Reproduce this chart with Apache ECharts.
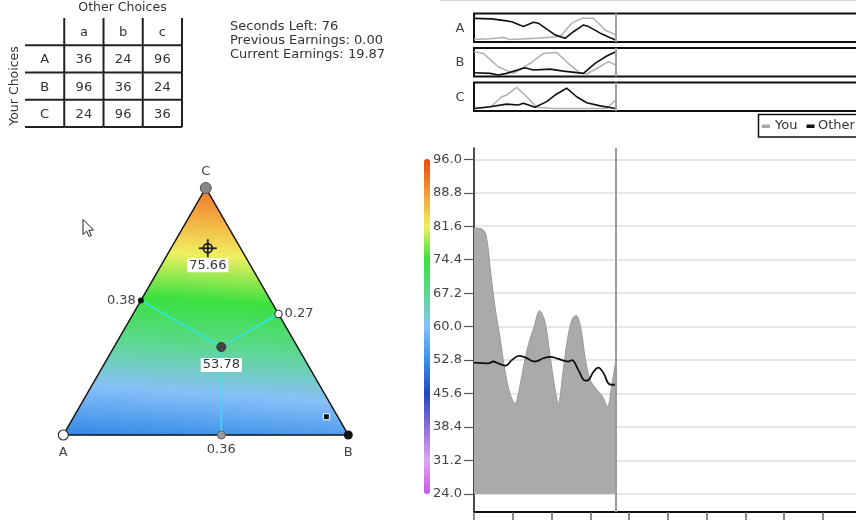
<!DOCTYPE html>
<html><head><meta charset="utf-8">
<script src="https://cdn.jsdelivr.net/npm/echarts@6/dist/echarts.min.js"></script>
<style>html,body{margin:0;padding:0;background:#fff}#c{width:856px;height:520px}</style>
</head><body><div id="c"></div>
<script>
// ---------- data ----------
const payoffCols = ['a', 'b', 'c'];
const payoffRows = ['A', 'B', 'C'];
const payoffs = [[36, 24, 96], [96, 36, 24], [24, 96, 36]];
const infoLines = ['Seconds Left: 76', 'Previous Earnings: 0.00', 'Current Earnings: 19.87'];
const vertexLabels = ['A', 'B', 'C'];
const vertexHeat = [52, 55, 92];             // payoff shown at vertices A, B, C
const heatColors = ['#c855e8', '#dfa6f2', '#8a6fd6', '#2447c0', '#3a8ee8', '#88c0f8',
                    '#5cd890', '#3ae040', '#f0f060', '#f29a3a', '#e84a10'];
const heatMin = 24, heatMax = 96, heatStep = 7.2;
const myMix = [0.27, 0.38, 0.36];           // weights of A, B, C
const myPayoffNow = 53.78;
const cursorMix = [0.115, 0.129, 0.756];
const cursorPayoff = 75.66;
const otherMarker = [0.04, 0.886, 0.074];
const timeMax = 120, timeStep = 12, timeNow = 44;
const legendNames = ['You', 'Other'];
const youPayoff = [[0,81.2],[2.5,81.0],[3.8,79.5],[5.2,71.5],[6.5,64.3],[8.1,57.5],[9.6,50.5],[11.2,45.5],[12.7,43.5],
  [14,46.5],[15.5,52],[17,56.5],[18.6,60],[20.3,63.4],[22,61],[23.5,54],[25,47],[26.1,43.5],
  [27.5,50],[29,57.5],[30.5,61.8],[31.6,62.4],[33,60],[34.5,53],[36,48.5],[38,46.5],[39.8,45],
  [41.3,42.8],[42.7,47.5],[44,53.2]];
const otherPayoff = [[0,52.25],[4.4,52.1],[6.0,52.5],[7.5,52.1],[9.8,51.6],[11.7,52.8],[14.0,53.7],[15.8,53.4],
  [18.9,52.5],[21.5,53.2],[23.6,53.5],[25.6,53.2],[27.7,52.7],[29.2,52.5],[30.3,52.8],[32.3,50.7],
  [34.4,48.4],[35.4,48.5],[37.0,50.3],[38.5,51.2],[40.1,50.0],[41.6,47.8],[42.7,47.5],[44,47.5]];
const youA = [[0,0.09],[5,0.11],[9.1,0.16],[11.2,0.09],[19.4,0.13],[26.7,0.19],[30.3,0.66],[33.4,0.83],[37,0.83],[40.6,0.42],[42.7,0.31],[43.9,0.25]];
const otherA = [[0,0.83],[5.5,0.81],[9.6,0.75],[11.7,0.71],[15.3,0.54],[18.4,0.69],[19.9,0.66],[25.1,0.25],[28.2,0.13],[30.8,0.36],[33.9,0.60],[35.5,0.54],[39.1,0.31],[42.2,0.15],[43.9,0.07]];
const youB = [[0,0.87],[2.9,0.81],[7.5,0.34],[12.2,0.11],[17.4,0.46],[21.5,0.81],[25.6,0.84],[29.2,0.46],[32.9,0.11],[35,0.09],[38.1,0.29],[41.7,0.52],[43.9,0.40]];
const otherB = [[0,0.13],[5,0.11],[7.5,0.05],[10.1,0.11],[15.8,0.31],[18.4,0.23],[23.6,0.26],[27.7,0.19],[33.9,0.11],[37.5,0.46],[41.1,0.72],[43.9,0.87]];
const youC = [[0,0.09],[5,0.13],[8.6,0.50],[10.1,0.56],[13.2,0.83],[15.8,0.56],[19.4,0.13],[24.6,0.09],[41.1,0.09],[43.9,0.39]];
const otherC = [[0,0.09],[5,0.15],[10.1,0.24],[13.7,0.21],[15.3,0.27],[18.9,0.13],[22.5,0.33],[25.1,0.56],[28.7,0.80],[31.8,0.50],[34.9,0.29],[39.1,0.18],[43.9,0.09]];
const sparkYou = [youA, youB, youC];
const sparkOther = [otherA, otherB, otherC];

// ---------- helpers ----------
const FONT = 'DejaVu Sans';
const H = Math.sqrt(3) / 2;
function toXY(w) { const s = w[0] + w[1] + w[2]; return [(w[1] + w[2] * 0.5) / s, (w[2] / s) * H]; }
const YOU_COLOR = '#aaaaaa', OTHER_COLOR = '#111111';

const chart = echarts.init(document.getElementById('c'), null, { renderer: 'canvas' });

function triangleItem(params, api) {
  const pA = api.coord([0, 0]), pB = api.coord([1, 0]), pC = api.coord([0.5, H]);
  const [vA, vB, vC] = vertexHeat;
  const e1 = [pB[0] - pA[0], pB[1] - pA[1]], e2 = [pC[0] - pA[0], pC[1] - pA[1]];
  const d1 = vB - vA, d2 = vC - vA;
  const det = e1[0] * e2[1] - e1[1] * e2[0];
  const gx = (d1 * e2[1] - d2 * e1[1]) / det;
  const gy = (e1[0] * d2 - e2[0] * d1) / det;
  const g2 = gx * gx + gy * gy;
  const at = v => [pA[0] + gx * (v - vA) / g2, pA[1] + gy * (v - vA) / g2];
  const p0 = at(heatMin), p1 = at(heatMax);
  const stops = heatColors.map((c, i) => ({ offset: i / (heatColors.length - 1), color: c }));
  const P = api.coord(toXY(myMix));
  const foot = (U, V) => { const dx = V[0] - U[0], dy = V[1] - U[1];
    const t = ((P[0] - U[0]) * dx + (P[1] - U[1]) * dy) / (dx * dx + dy * dy); return [U[0] + t * dx, U[1] + t * dy]; };
  const fB = foot(pA, pC), fA = foot(pB, pC), fC = foot(pA, pB);
  const X = api.coord(toXY(cursorMix));
  const Q = api.coord(toXY(otherMarker));
  const txt = (x, y, text, align, extra) => ({ type: 'text', x, y, z2: 20,
    style: Object.assign({ text, fill: '#444', fontSize: 13, fontFamily: FONT, align: align || 'center', verticalAlign: 'middle' }, extra || {}) });
  const cyan = { stroke: '#2fe6ea', lineWidth: 1.5 };
  const children = [
    { type: 'polygon', shape: { points: [pA, pB, pC] }, z2: 1,
      style: { fill: { type: 'linear', x: p0[0], y: p0[1], x2: p1[0], y2: p1[1], global: true, colorStops: stops }, stroke: '#111', lineWidth: 1.5 } },
    { type: 'line', shape: { x1: P[0], y1: P[1], x2: fB[0], y2: fB[1] }, style: cyan, z2: 5 },
    { type: 'line', shape: { x1: P[0], y1: P[1], x2: fA[0], y2: fA[1] }, style: cyan, z2: 5 },
    { type: 'line', shape: { x1: P[0], y1: P[1], x2: fC[0], y2: fC[1] }, style: cyan, z2: 5 },
    { type: 'circle', shape: { cx: fB[0], cy: fB[1], r: 3 }, style: { fill: '#111' }, z2: 10 },
    { type: 'circle', shape: { cx: fA[0], cy: fA[1], r: 3.8 }, style: { fill: '#fff', stroke: '#222', lineWidth: 1 }, z2: 10 },
    { type: 'circle', shape: { cx: fC[0], cy: fC[1], r: 4 }, style: { fill: '#999', stroke: '#666', lineWidth: 1 }, z2: 10 },
    { type: 'circle', shape: { cx: P[0], cy: P[1], r: 4.5 }, style: { fill: '#444', stroke: '#333', lineWidth: 1 }, z2: 10 },
    { type: 'circle', shape: { cx: pA[0], cy: pA[1], r: 5 }, style: { fill: '#fff', stroke: '#333', lineWidth: 1.2 }, z2: 10 },
    { type: 'circle', shape: { cx: pB[0], cy: pB[1], r: 4.5 }, style: { fill: '#111' }, z2: 10 },
    { type: 'circle', shape: { cx: pC[0], cy: pC[1], r: 5.5 }, style: { fill: '#888', stroke: '#555', lineWidth: 1 }, z2: 10 },
    { type: 'rect', shape: { x: Q[0] - 3, y: Q[1] - 3, width: 6, height: 6 }, style: { fill: '#111', stroke: '#fff', lineWidth: 1 }, z2: 10 },
    { type: 'circle', shape: { cx: X[0], cy: X[1], r: 4.5 }, style: { fill: 'none', stroke: '#222', lineWidth: 1.8 }, z2: 12 },
    { type: 'line', shape: { x1: X[0] - 9, y1: X[1], x2: X[0] + 9, y2: X[1] }, style: { stroke: '#222', lineWidth: 1.8 }, z2: 12 },
    { type: 'line', shape: { x1: X[0], y1: X[1] - 9, x2: X[0], y2: X[1] + 9 }, style: { stroke: '#222', lineWidth: 1.8 }, z2: 12 },
    txt(pA[0], pA[1] + 18, vertexLabels[0]),
    txt(pB[0], pB[1] + 18, vertexLabels[1]),
    txt(pC[0], pC[1] - 16, vertexLabels[2]),
    txt(fB[0] - 5, fB[1], myMix[1].toFixed(2), 'right'),
    txt(fA[0] + 6, fA[1], myMix[0].toFixed(2), 'left'),
    txt(fC[0], fC[1] + 15, myMix[2].toFixed(2)),
    txt(P[0], P[1] + 18, myPayoffNow.toFixed(2), 'center', { backgroundColor: '#fff', padding: [1, 2, 0, 2], fill: '#333' }),
    txt(X[0], X[1] + 17, cursorPayoff.toFixed(2), 'center', { backgroundColor: '#fff', padding: [1, 2, 0, 2], fill: '#333' })
  ];
  return { type: 'group', children };
}

const tableData = [];
for (let r = 0; r <= 3; r++) for (let c = 0; c <= 3; c++) {
  let t = '';
  if (r === 0 && c > 0) t = payoffCols[c - 1];
  else if (c === 0 && r > 0) t = payoffRows[r - 1];
  else if (r > 0 && c > 0) t = String(payoffs[r - 1][c - 1]);
  tableData.push([c, r, t]);
}
function tableItem(params, api) {
  const c = api.value(0), r = api.value(1);
  const p = api.coord([c, r]);
  const sz = api.size([1, 1]);
  const x0 = p[0] - sz[0] / 2, x1 = p[0] + sz[0] / 2, y0 = p[1] - sz[1] / 2, y1 = p[1] + sz[1] / 2;
  const line = { stroke: '#222', lineWidth: 2 };
  return { type: 'group', children: [
    { type: 'line', shape: { x1: x1, y1: y0, x2: x1, y2: y1 }, style: line },
    { type: 'line', shape: { x1: x0, y1: y1, x2: x1, y2: y1 }, style: line },
    { type: 'text', x: p[0], y: p[1] + 1, style: { text: tableData[params.dataIndex][2], fill: '#333', fontSize: 13, fontFamily: FONT, align: 'center', verticalAlign: 'middle' } }
  ] };
}

// ---------- layout ----------
const plotLeft = 474, plotWidth = 387.5;
const sparkTops = [13.5, 48, 82.5];
const NB = { outerBoundsMode: 'none', containLabel: false };
const grids = [
  Object.assign({ left: 63.3, top: 188, width: 285, height: 247 }, NB),                  // 0 triangle
  Object.assign({ left: plotLeft, width: plotWidth, top: 159.3, bottom: 26 }, NB),        // 1 main data
  Object.assign({ left: plotLeft, width: plotWidth, top: 148, bottom: 8 }, NB),           // 2 main frame
  Object.assign({ left: 25, top: 18, width: 157, height: 109 }, NB)                       // 3 table
];
sparkTops.forEach(t => grids.push(Object.assign({ left: plotLeft, width: plotWidth, top: t, height: 28.5, show: true,
  borderColor: '#111', borderWidth: 2, backgroundColor: 'transparent' }, NB)));

const xAxes = [
  { gridIndex: 0, type: 'value', min: 0, max: 1, show: false },
  { gridIndex: 1, type: 'value', min: 0, max: timeMax, show: false },
  { gridIndex: 2, type: 'value', min: 0, max: timeMax, interval: timeStep,
    axisLine: { show: true, lineStyle: { color: '#111', width: 2 } },
    axisTick: { show: true, length: 8, lineStyle: { color: '#666', width: 1.5 } },
    axisLabel: { show: false }, splitLine: { show: false } },
  { gridIndex: 3, type: 'category', data: ['', ...payoffCols], show: false }
];
const yAxes = [
  { gridIndex: 0, type: 'value', min: 0, max: H, show: false },
  { gridIndex: 1, type: 'value', min: heatMin, max: heatMax, interval: heatStep,
    axisLine: { show: false },
    axisTick: { show: true, length: 10, lineStyle: { color: '#555', width: 1.2 } },
    axisLabel: { margin: 12, fontSize: 13, color: '#444', fontFamily: FONT, formatter: v => v.toFixed(1) },
    splitLine: { show: true, lineStyle: { color: '#dedede', width: 1.5 } } },
  { gridIndex: 2, type: 'value', min: 0, max: 1,
    axisLine: { show: true, lineStyle: { color: '#111', width: 1.5 } },
    axisTick: { show: false }, axisLabel: { show: false }, splitLine: { show: false } },
  { gridIndex: 3, type: 'category', data: ['', ...payoffRows], inverse: true, show: false }
];
sparkTops.forEach((t, i) => {
  xAxes.push({ gridIndex: 4 + i, type: 'value', min: 0, max: timeMax, show: false });
  yAxes.push({ gridIndex: 4 + i, type: 'value', min: 0, max: 1, show: false });
});

const nowLine = (color) => ({ silent: true, symbol: 'none', label: { show: false },
  lineStyle: { color, width: 2, type: 'solid' }, data: [{ xAxis: timeNow }] });

const series = [
  { type: 'custom', xAxisIndex: 0, yAxisIndex: 0, renderItem: triangleItem, data: [[0.5, 0.3, 60]], silent: true },
  { type: 'custom', xAxisIndex: 3, yAxisIndex: 3, renderItem: tableItem, data: tableData, silent: true },
  { name: legendNames[0], type: 'line', xAxisIndex: 1, yAxisIndex: 1, data: youPayoff, smooth: 0.35,
    showSymbol: false, lineStyle: { color: '#999', width: 1 }, itemStyle: { color: YOU_COLOR },
    areaStyle: { color: YOU_COLOR, opacity: 1 }, z: 3 },
  { name: legendNames[1], type: 'line', xAxisIndex: 1, yAxisIndex: 1, data: otherPayoff, smooth: 0.4,
    showSymbol: false, lineStyle: { color: OTHER_COLOR, width: 1.8 }, itemStyle: { color: OTHER_COLOR }, z: 4 },
  { type: 'line', xAxisIndex: 2, yAxisIndex: 2, data: [[timeNow, 0.5]], showSymbol: false,
    lineStyle: { opacity: 0 }, markLine: nowLine('#9a9a9a'), z: 5 }
];
sparkTops.forEach((t, i) => {
  series.push({ name: legendNames[0], type: 'line', xAxisIndex: 4 + i, yAxisIndex: 4 + i, data: sparkYou[i], showSymbol: false,
    lineStyle: { color: '#b0b0b0', width: 1.5 }, itemStyle: { color: YOU_COLOR }, markLine: nowLine('#a0a0a0') });
  series.push({ name: legendNames[1], type: 'line', xAxisIndex: 4 + i, yAxisIndex: 4 + i, data: sparkOther[i], showSymbol: false,
    lineStyle: { color: OTHER_COLOR, width: 1.6 }, itemStyle: { color: OTHER_COLOR } });
});

const graphics = [
  { type: 'text', x: 122.5, y: 8, style: { text: 'Other Choices', fill: '#333', fontSize: 12.5, fontFamily: FONT, align: 'center', verticalAlign: 'middle' } },
  { type: 'text', x: 15, y: 86, rotation: Math.PI / 2, style: { text: 'Your Choices', fill: '#333', fontSize: 12.5, fontFamily: FONT, align: 'center', verticalAlign: 'middle' } },
  { type: 'line', shape: { x1: 440, y1: 0.5, x2: 856, y2: 0.5 }, style: { stroke: '#d8d8d8', lineWidth: 1 } },
  // legend box (extends past the right edge, as in the original)
  { type: 'rect', shape: { x: 758.5, y: 114.5, width: 110, height: 22.5 }, style: { fill: '#fff', stroke: '#111', lineWidth: 1.5 }, z: 40 },
  { type: 'rect', shape: { x: 762, y: 124.5, width: 8, height: 3.5 }, style: { fill: YOU_COLOR }, z: 41 },
  { type: 'text', x: 775, y: 126, style: { text: legendNames[0], fill: '#333', fontSize: 13, fontFamily: FONT, align: 'left', verticalAlign: 'middle' }, z: 41 },
  { type: 'rect', shape: { x: 806.5, y: 124.5, width: 8, height: 3.5 }, style: { fill: OTHER_COLOR }, z: 41 },
  { type: 'text', x: 818, y: 126, style: { text: legendNames[1], fill: '#333', fontSize: 13, fontFamily: FONT, align: 'left', verticalAlign: 'middle' }, z: 41 },
  // mouse cursor
  { type: 'polygon', x: 83, y: 219.5, shape: { points: [[0,0],[0,15],[3.6,11.6],[6.2,17],[8.4,16],[5.8,10.8],[10.5,10.5]] },
    style: { fill: '#fff', stroke: '#222', lineWidth: 1 }, z: 50 }
];
infoLines.forEach((t, i) => graphics.push({ type: 'text', x: 230, y: 27 + i * 14,
  style: { text: t, fill: '#333', fontSize: 13, fontFamily: FONT, align: 'left', verticalAlign: 'middle' } }));
sparkTops.forEach((t, i) => graphics.push({ type: 'text', x: 460, y: t + 15,
  style: { text: vertexLabels[i], fill: '#444', fontSize: 13, fontFamily: FONT, align: 'center', verticalAlign: 'middle' } }));

chart.setOption({
  animation: false,
  textStyle: { fontFamily: FONT },
  grid: grids, xAxis: xAxes, yAxis: yAxes, series,
  visualMap: { type: 'continuous', min: heatMin, max: heatMax, left: 424, top: 159, itemWidth: 6, itemHeight: 335,
    padding: 0, calculable: false, seriesIndex: 0, dimension: 2, inRange: { color: heatColors } },
  graphic: graphics
});
</script></body></html>
